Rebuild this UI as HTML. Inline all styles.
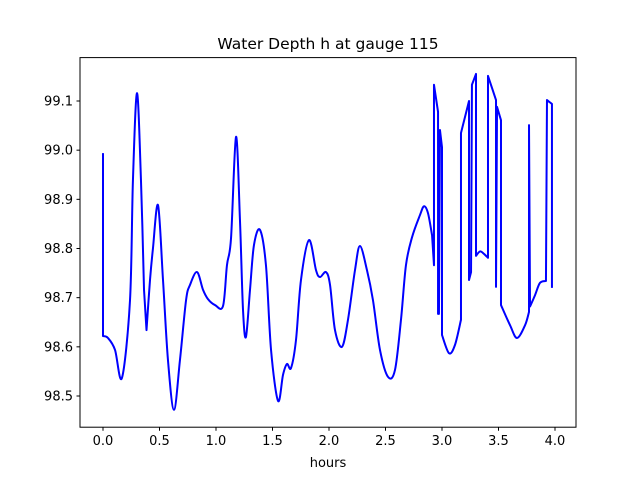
<!DOCTYPE html>
<html><head><meta charset="utf-8"><style>
body{margin:0;background:#fff}
svg{display:block;font-family:"DejaVu Sans","Liberation Sans",sans-serif}
</style></head><body>
<svg id="chart" width="640" height="480" viewBox="0 0 640 480">
<rect width="640" height="480" fill="#fff"/>
<text x="328" y="49" font-size="15.5" text-anchor="middle">Water Depth h at gauge 115</text>
<g id="xt"></g>
<g id="yt"></g>
<text x="328" y="467" font-size="13" text-anchor="middle">hours</text>
<path id="line" fill="none" stroke="#0000ff" stroke-width="2" stroke-linejoin="round"/>
<rect x="80" y="57.6" width="496" height="369.6" fill="none" stroke="#000" stroke-width="1"/>
</svg>
<script>
const hours=[0,0,.044,.106,.168,.239,.265,.301,.336,.363,.385,.416,.442,.487,.531,.575,.628,.681,.735,.770,.832,.885,.929,.991,1.062,1.097,1.133,1.177,1.212,1.239,1.265,1.301,1.336,1.389,1.442,1.487,1.549,1.593,1.628,1.664,1.708,1.752,1.823,1.885,1.920,1.973,2.009,2.053,2.115,2.168,2.230,2.274,2.336,2.389,2.451,2.522,2.584,2.637,2.681,2.735,2.805,2.841,2.876,2.912,2.929,2.929,2.965,2.965,2.973,2.982,3.0,3.0,3.062,3.115,3.168,3.168,3.239,3.239,3.257,3.265,3.301,3.301,3.336,3.372,3.407,3.407,3.478,3.478,3.487,3.522,3.522,3.602,3.664,3.735,3.770,3.770,3.779,3.823,3.867,3.920,3.929,3.973,3.973];
const depth=[98.994,98.622,98.618,98.594,98.537,98.695,98.939,99.116,98.939,98.716,98.634,98.736,98.800,98.888,98.736,98.573,98.472,98.573,98.695,98.726,98.752,98.716,98.697,98.685,98.683,98.766,98.821,99.027,98.858,98.675,98.620,98.716,98.807,98.838,98.766,98.594,98.490,98.543,98.565,98.557,98.614,98.736,98.817,98.756,98.742,98.752,98.726,98.634,98.600,98.655,98.756,98.805,98.756,98.695,98.594,98.539,98.553,98.655,98.766,98.823,98.868,98.886,98.872,98.827,98.766,99.133,99.078,98.667,98.667,99.041,99.006,98.624,98.587,98.604,98.655,99.035,99.100,98.736,98.752,99.133,99.155,98.785,98.794,98.789,98.781,99.151,99.102,98.722,99.088,99.061,98.685,98.644,98.618,98.644,98.671,99.051,98.682,98.705,98.730,98.734,99.102,99.094,98.720];
const xTicks=["0.0","0.5","1.0","1.5","2.0","2.5","3.0","3.5","4.0"];
const yTicks=["98.5","98.6","98.7","98.8","98.9","99.0","99.1"];
const NS="http://www.w3.org/2000/svg";
const X=t=>103+t*113;
const Y=h=>396-(h-98.5)*(295/0.6);
// split into smooth runs at vertical jumps / sharp spikes
const pts=hours.map((t,i)=>[X(t),Y(depth[i])]);
const runs=[];let cur=[pts[0]];
for(let i=1;i<pts.length;i++){
  if(Math.abs(pts[i][0]-pts[i-1][0])<2.5){runs.push(cur);cur=[pts[i]];}
  else cur.push(pts[i]);
}
runs.push(cur);
let d="";
runs.forEach((r,k)=>{
  d+=(k?"L":"M")+r[0][0].toFixed(2)+" "+r[0][1].toFixed(2);
  for(let i=0;i<r.length-1;i++){
    const p0=r[i-1]||r[i],p1=r[i],p2=r[i+1],p3=r[i+2]||r[i+1];
    const c1=[p1[0]+(p2[0]-p0[0])/6,p1[1]+(p2[1]-p0[1])/6];
    const c2=[p2[0]-(p3[0]-p1[0])/6,p2[1]-(p3[1]-p1[1])/6];
    d+="C"+c1[0].toFixed(2)+" "+c1[1].toFixed(2)+" "+c2[0].toFixed(2)+" "+c2[1].toFixed(2)+" "+p2[0].toFixed(2)+" "+p2[1].toFixed(2);
  }
});
document.getElementById("line").setAttribute("d",d);
const xt=document.getElementById("xt"),yt=document.getElementById("yt");
xTicks.forEach(s=>{const x=X(parseFloat(s));
const l=document.createElementNS(NS,"line");


l.setAttribute("x1",x);l.setAttribute("x2",x);l.setAttribute("y1",427.2);l.setAttribute("y2",430.7);l.setAttribute("stroke","#000");xt.appendChild(l);
const t=document.createElementNS(NS,"text");


t.setAttribute("x",x);t.setAttribute("y",445);t.setAttribute("font-size","13");t.setAttribute("text-anchor","middle");t.textContent=s;xt.appendChild(t);});
yTicks.forEach(s=>{const y=Y(parseFloat(s));
const l=document.createElementNS(NS,"line");


l.setAttribute("x1",76.5);l.setAttribute("x2",80);l.setAttribute("y1",y);l.setAttribute("y2",y);l.setAttribute("stroke","#000");yt.appendChild(l);
const t=document.createElementNS(NS,"text");


t.setAttribute("x",73);t.setAttribute("y",y+4.5);t.setAttribute("font-size","13");t.setAttribute("text-anchor","end");t.textContent=s;yt.appendChild(t);});
</script>
</body></html>
